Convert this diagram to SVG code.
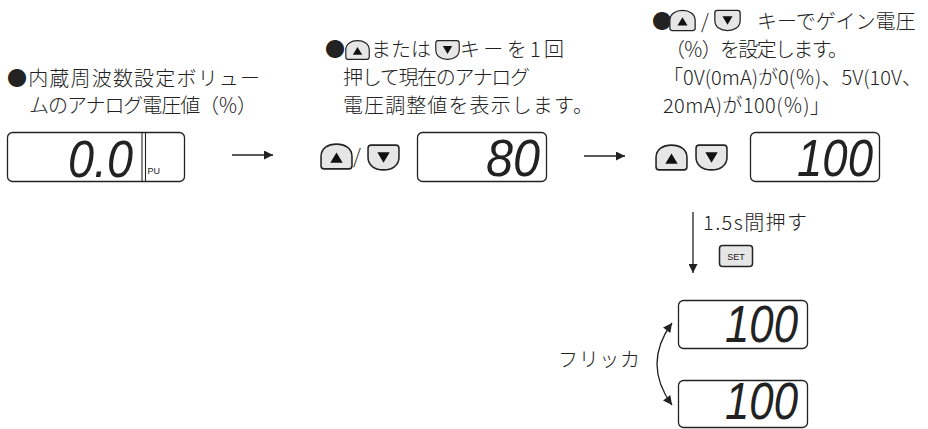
<svg xmlns="http://www.w3.org/2000/svg" xmlns:xlink="http://www.w3.org/1999/xlink" width="928" height="429" viewBox="0 0 928 429">
<style>
.jp{font-family:"Noto Sans CJK JP","Noto Sans",sans-serif;font-size:20px;font-weight:300;fill:#222;}
.disp{fill:#fff;stroke:#222;stroke-width:1.3;}
.seg{font-family:"Liberation Sans",Arial,sans-serif;font-style:italic;font-size:52px;fill:#222;}
.conn{fill:none;stroke:#222;stroke-width:1.3;}
.key{fill:#e6e6e6;stroke:#222;stroke-width:1.5;}
.small{font-family:"Liberation Sans",Arial,sans-serif;font-size:9px;fill:#222;}
</style>
<defs>
<symbol id="keyUp" viewBox="0 0 32 26">
<path class="key" d="M4,25 Q1,25 1,22 L1,13 C1,5 8,1 16,1 C24,1 31,5 31,13 L31,22 Q31,25 28,25 Z"/>
<path d="M10,19 L22,19 L16,9 Z" fill="#111"/>
</symbol>
<symbol id="keyDown" viewBox="0 0 32 26">
<path class="key" d="M4,1 Q1,1 1,4 L1,13 C1,21 8,25 16,25 C24,25 31,21 31,13 L31,4 Q31,1 28,1 Z"/>
<path d="M10,8 L22,8 L16,18 Z" fill="#111"/>
</symbol>
<marker id="ah" viewBox="0 0 10 10" refX="10" refY="5" markerWidth="10" markerHeight="9" markerUnits="userSpaceOnUse" orient="auto-start-reverse">
<path d="M0,0 L10,5 L0,10 Z" fill="#222"/>
</marker>
</defs>

<g id="label-left">
<text class="jp" x="7" y="86" font-size="21" textLength="253">●内蔵周波数設定ボリュー</text>
<text class="jp" x="29" y="113" textLength="228">ムのアナログ電圧値（％）</text>
</g>

<g id="display-1">
<rect class="disp" x="7.5" y="132.5" width="177" height="49" rx="5"/>
<line x1="142" y1="133" x2="142" y2="181" stroke="#222" stroke-width="1.1"/>
<line x1="145.5" y1="133" x2="145.5" y2="181" stroke="#222" stroke-width="1.1"/>
<text class="small" x="147.5" y="174">PU</text>
<text class="seg" x="68" y="177" textLength="65" lengthAdjust="spacingAndGlyphs">0.0</text>
</g>

<g id="label-middle">
<text class="jp" x="325" y="57" textLength="19">●</text>
<use href="#keyUp" x="345" y="39" width="25" height="22"/>
<text class="jp" x="371" y="57" font-size="21">または</text>
<use href="#keyDown" x="435" y="39" width="25" height="22"/>
<text class="jp" x="460" y="57" font-size="21" textLength="104">キーを1回</text>
<text class="jp" x="343" y="85" textLength="187">押して現在のアナログ</text>
<text class="jp" x="343" y="113" font-size="21.5" textLength="250">電圧調整値を表示します。</text>
</g>

<g id="keys-middle">
<use href="#keyUp" x="320" y="143" width="33" height="27"/>
<text class="jp" x="353" y="164">/</text>
<use href="#keyDown" x="367" y="144" width="33" height="27"/>
</g>

<g id="display-2">
<rect class="disp" x="417.5" y="132.5" width="129" height="49" rx="5"/>
<text class="seg" x="486" y="176" textLength="54" lengthAdjust="spacingAndGlyphs">80</text>
</g>

<g id="label-right">
<text class="jp" x="652" y="29" textLength="19">●</text>
<use href="#keyUp" x="669" y="9" width="27" height="23"/>
<text class="jp" x="701" y="29">/</text>
<use href="#keyDown" x="714" y="9" width="27" height="23"/>
<text class="jp" x="757" y="29" font-size="21">キーでゲイン電圧</text>
<text class="jp" x="665" y="57" textLength="183">（％）を設定します。</text>
<text class="jp" x="663" y="85" textLength="259">「0V(0mA)が0(％)、5V(10V、</text>
<text class="jp" x="663" y="113" textLength="167">20mA)が100(％)」</text>
</g>

<g id="keys-right">
<use href="#keyUp" x="655" y="144" width="33" height="27"/>
<use href="#keyDown" x="695" y="144" width="33" height="27"/>
</g>

<g id="display-3">
<rect class="disp" x="750.5" y="132.5" width="129" height="49" rx="5"/>
<text class="seg" x="797" y="176" textLength="76" lengthAdjust="spacingAndGlyphs">100</text>
</g>

<g id="label-set">
<text class="jp" x="703" y="230" textLength="104">1.5s間押す</text>
<rect class="key" x="719.5" y="245.5" width="33" height="21" rx="3"/>
<text class="small" x="736" y="259.5" text-anchor="middle" font-size="9.5">SET</text>
</g>

<g id="display-4">
<rect class="disp" x="678.5" y="300.5" width="129" height="48" rx="5"/>
<text class="seg" x="725" y="342" font-size="48" textLength="73" lengthAdjust="spacingAndGlyphs">100</text>
</g>

<g id="display-5">
<rect class="disp" x="678.5" y="380.5" width="129" height="47" rx="5"/>
<text class="seg" x="725" y="419" font-size="46" textLength="73" lengthAdjust="spacingAndGlyphs">100</text>
</g>

<g id="label-flicker">
<text class="jp" x="558" y="367" textLength="82">フリッカ</text>
</g>

<g id="connectors">
<line class="conn" x1="232" y1="155" x2="273" y2="155" marker-end="url(#ah)"/>
<line class="conn" x1="584" y1="156" x2="625" y2="156" marker-end="url(#ah)"/>
<line class="conn" x1="693" y1="212" x2="693" y2="273" marker-end="url(#ah)"/>
<path class="conn" d="M672,323 Q642,364 672,405" marker-start="url(#ah)" marker-end="url(#ah)"/>
</g>
</svg>
